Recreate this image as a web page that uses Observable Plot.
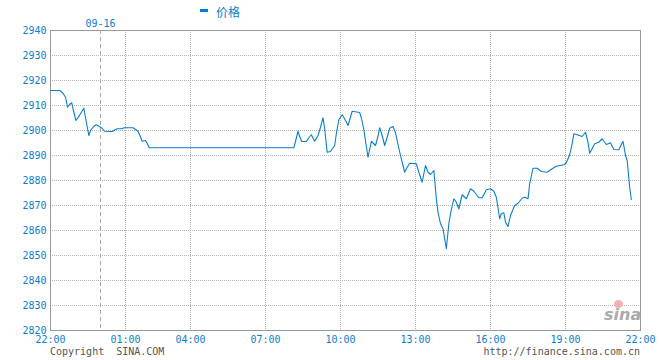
<!DOCTYPE html>
<html><head><meta charset="utf-8">
<script src="https://cdn.jsdelivr.net/npm/d3@7"></script>
<script src="https://cdn.jsdelivr.net/npm/@observablehq/plot@0.6"></script>
<style>
body{margin:0;background:#fff;}
#wrap{position:relative;width:660px;height:360px;font-family:"DejaVu Sans Mono",monospace;}
.abs{position:absolute;white-space:pre;line-height:12px;}
</style></head><body><div id="wrap"></div>
<script>
// minutes since 22:00 (09-15)
const minutes = [0,22,30,36,41,46,51,54,61,66,80,86,92,96,104,110,116,124,130,148,154,160,172,176,
  201,208,215,222,226,235,240,246,608,612,618,622,627,638,644,650,658,666,672,678,682,688,696,706,710,
  716,724,732,738,748,766,770,776,781,786,794,804,810,814,820,826,832,838,846,852,858,864,870,874,880,
  886,902,908,916,924,930,936,944,950,954,960,966,974,980,984,992,998,1004,1012,1018,1022,1032,1040,
  1052,1060,1070,1080,1088,1094,1102,1106,1112,1116,1122,1128,1138,1146,1156,1162,1170,1174,1182,1192,
  1202,1216,1228,1238,1256,1262,1270,1276,1280,1288,1300,1308,1314,1318,1324,1330,1340,1348,1358,1368,
  1376,1388,1398,1404,1408,1414,1418];
const prices = [2916,2916,2914.9,2913.3,2909.3,2910.4,2911.1,2908.7,2904,2905.1,2908.9,2903.3,2898,2900,
  2901.7,2902.3,2901.7,2900.9,2899.7,2899.6,2900.2,2900.7,2900.7,2901.1,2901.1,2900.4,2899.6,2897.3,2895.7,
  2896,2894.9,2893.1,2893.1,2895.6,2899.7,2897.6,2895.6,2895.6,2897.1,2898.3,2895.7,2898,2901.3,2905.1,
  2900.7,2891.3,2891.6,2894,2898.7,2904.3,2906.3,2904,2902,2907.7,2907.2,2905.1,2900.4,2894.7,2889.3,
  2895.7,2894,2897.7,2901.1,2898,2894,2897.3,2900.9,2901.6,2899.1,2894.4,2890,2886,2883.3,2885.3,2886.9,
  2886.7,2883.3,2879.3,2886,2883.3,2882.4,2884,2872.7,2867.3,2862.7,2860.7,2852.7,2862.7,2866.7,2872.7,
  2871.3,2868.7,2874.3,2873.3,2872.7,2876.7,2875.7,2873.1,2873.1,2876.3,2876.7,2875.7,2873.3,2864.7,
  2866.7,2867.1,2863.3,2861.6,2866,2870,2870.9,2872.9,2873.3,2872.7,2878.7,2884.9,2884.9,2883.6,2883.3,
  2884.7,2885.7,2886.3,2887.1,2890.3,2894.7,2898.7,2898.3,2897.6,2899.3,2895.3,2890.9,2892.7,2894.7,
  2895.3,2896.7,2894.4,2895.1,2892.4,2892.3,2895.7,2890,2888,2877.3,2872.3];
const xTicks = [0,180,360,540,720,900,1080,1260,1440];
const xTickLabels = ["22:00","01:00","04:00","07:00","10:00","13:00","16:00","19:00","22:00"];
const yTicks = [2820,2830,2840,2850,2860,2870,2880,2890,2900,2910,2920,2930,2940];
const dayBreaks = [120];
const dayLabels = ["09-16"];
const seriesName = "价格";

const BLUE = "#0a7ecc";
const data = minutes.map((t, i) => ({t, p: prices[i]}));

const chart = Plot.plot({
  width: 660, height: 360,
  marginTop: 30, marginBottom: 30, marginLeft: 50, marginRight: 20,
  style: {background: "transparent", fontFamily: "DejaVu Sans Mono, monospace", fontSize: "10px"},
  x: {type: "linear", domain: [0, 180, 360, 1440], range: [50, 125, 190, 640], label: null},
  y: {domain: [2820, 2940], range: [330, 30], label: null},
  marks: [
    Plot.ruleY(yTicks, {y: d => d, stroke: "#b4b4b4", strokeDasharray: "1,1", shapeRendering: "crispEdges"}),
    Plot.ruleX(xTicks, {x: d => d, stroke: "#b4b4b4", strokeDasharray: "1,1", shapeRendering: "crispEdges"}),
    Plot.ruleX(dayBreaks, {x: d => d, stroke: "#aaa", strokeDasharray: "4,3", shapeRendering: "crispEdges"}),
    Plot.frame({stroke: "#999", shapeRendering: "crispEdges"}),
    Plot.axisY(yTicks, {tickSize: 0, tickPadding: 4, fill: BLUE, fontSize: 10, label: null, tickFormat: d => String(d)}),
    Plot.axisX(xTicks, {tickSize: 0, tickPadding: 5, fill: BLUE, fontSize: 10, label: null,
      tickFormat: d => xTickLabels[xTicks.indexOf(d)]}),
    Plot.text(dayBreaks, {x: d => d, frameAnchor: "top", dy: -11, text: (d, i) => dayLabels[i], fill: BLUE, fontSize: 10}),
    Plot.line(data, {x: "t", y: "p", stroke: BLUE, strokeWidth: 1.1})
  ]
});
const wrap = document.getElementById("wrap");
wrap.appendChild(chart);

function addDiv(html, css) {
  const d = document.createElement("div");
  d.className = "abs";
  d.innerHTML = html;
  Object.assign(d.style, css);
  wrap.appendChild(d);
  return d;
}
addDiv("", {left: "200px", top: "9px", width: "8px", height: "3px", background: BLUE});
addDiv(seriesName, {left: "216px", top: "5px", fontSize: "12px", color: BLUE, fontFamily: "'Noto Sans CJK SC', sans-serif", lineHeight: "14px"});
addDiv("Copyright  SINA.COM", {left: "50px", top: "346px", fontSize: "10px", color: "#555"});
addDiv("http://finance.sina.com.cn", {right: "20px", top: "346px", fontSize: "10px", color: "#555"});
addDiv("", {left: "614px", top: "300px", width: "9px", height: "8px", borderRadius: "50%", background: "#f4b0b0"});
addDiv("sina", {left: "604px", top: "306px", fontSize: "16px", lineHeight: "17px", color: "#aaa", fontStyle: "italic", fontWeight: "bold", fontFamily: "'DejaVu Sans', sans-serif"});
</script></body></html>
